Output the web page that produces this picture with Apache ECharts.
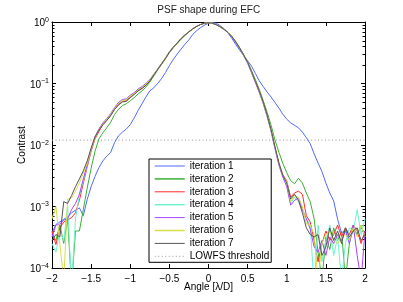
<!DOCTYPE html>
<html>
<head>
<meta charset="utf-8">
<script src="https://cdn.jsdelivr.net/npm/echarts@6/dist/echarts.min.js"></script>
<style>html,body{margin:0;padding:0;background:#fff;}#c{width:403px;height:302px;}</style>
</head>
<body>
<div id="c"></div>
<script>
var titleText = 'PSF shape during EFC';
var xName = 'Angle [λ/D]';
var yName = 'Contrast';
var seriesNames = ['iteration 1','iteration 2','iteration 3','iteration 4','iteration 5','iteration 6','iteration 7','LOWFS threshold'];
var xTicks = [-2,-1.5,-1,-0.5,0,0.5,1,1.5,2];
var yTicks = [1e-4,1e-3,1e-2,1e-1,1];

var xs = [-2,-1.95,-1.9,-1.85,-1.8,-1.75,-1.7,-1.65,-1.6,-1.55,
-1.5,-1.45,-1.4,-1.35,-1.3,-1.25,-1.2,-1.15,-1.1,-1.05,
-1,-0.95,-0.9,-0.85,-0.8,-0.75,-0.7,-0.65,-0.6,-0.55,
-0.5,-0.45,-0.4,-0.35,-0.3,-0.25,-0.2,-0.15,-0.1,-0.05,
0,0.05,0.1,0.15,0.2,0.25,0.3,0.35,0.4,0.45,
0.5,0.55,0.6,0.65,0.7,0.75,0.8,0.85,0.9,0.95,
1,1.05,1.1,1.15,1.2,1.25,1.3,1.35,1.4,1.45,
1.5,1.55,1.6,1.65,1.7,1.75,1.8,1.85,1.9,1.95,2];

var iter1 = [3.7e-4,5.1e-4,5.6e-4,6.2e-4,6.8e-4,7.9e-4,8.7e-4,9.5e-4,7.1e-4,1.3e-3,
2.1e-3,3.1e-3,4.3e-3,5.5e-3,6.6e-3,7.6e-3,0.011,0.0141,0.0162,0.0182,
0.0214,0.0275,0.0363,0.0468,0.0603,0.0759,0.085,0.1,0.12,0.151,
0.195,0.245,0.302,0.363,0.437,0.513,0.631,0.724,0.813,0.891,
0.955,0.977,0.955,0.871,0.776,0.661,0.537,0.427,0.347,0.285,
0.234,0.191,0.145,0.11,0.089,0.0724,0.0603,0.049,0.0398,0.0316,
0.0263,0.0229,0.0209,0.019,0.0162,0.0132,0.0105,0.0072,0.0051,0.0037,
0.0024,0.00166,0.00123,6.2e-4,3.7e-4,4.2e-4,2.9e-4,4.0e-4,3.6e-4,4.5e-4,3.7e-4];

var iter2 = [3.5e-4,2.8e-4,5.0e-4,2.5e-4,6.3e-4,5.0e-5,4.0e-4,4.0e-4,8.9e-4,2.0e-3,
4.2e-3,7.9e-3,0.0126,0.0158,0.0191,0.0234,0.0316,0.038,0.0437,0.0468,
0.0525,0.0589,0.0676,0.0759,0.0871,0.105,0.132,0.166,0.204,0.251,
0.316,0.38,0.447,0.525,0.603,0.692,0.776,0.851,0.912,0.955,
0.977,0.966,0.912,0.841,0.767,0.676,0.582,0.479,0.38,0.295,
0.224,0.162,0.115,0.0794,0.0525,0.0339,0.0209,0.012,0.00759,0.00501,
0.00355,0.00263,0.00234,0.00288,0.0024,0.00166,0.0012,6.3e-4,1.8e-4,6.3e-5,
3.2e-4,2.0e-4,4.5e-4,2.8e-4,4.0e-4,6.3e-5,2.5e-4,4.5e-4,3.5e-4,5.0e-4,3.2e-4];

var iter3 = [4.0e-4,2.4e-4,4.5e-4,5.6e-4,6.0e-4,6.6e-4,7.9e-4,1.26e-3,2.4e-3,4.4e-3,
7.9e-3,0.0126,0.0166,0.0214,0.0251,0.0302,0.038,0.0457,0.0513,0.0525,
0.0603,0.0676,0.0759,0.0832,0.0933,0.11,0.138,0.17,0.209,0.257,
0.324,0.389,0.457,0.537,0.617,0.692,0.776,0.851,0.912,0.955,
0.977,0.955,0.902,0.832,0.759,0.668,0.575,0.468,0.372,0.288,
0.219,0.155,0.107,0.0741,0.049,0.0302,0.0174,0.00912,0.00501,0.0033,
2.6e-3,1.41e-3,1.66e-3,1.78e-3,1.58e-3,7.1e-4,5.6e-4,2.8e-4,1.26e-4,2.5e-4,
4.0e-4,2.8e-4,3.5e-4,5.0e-4,3.2e-4,4.5e-4,3.5e-4,5.0e-4,4.0e-4,2.5e-4,4.0e-4];

var iter4 = [2.5e-4,1.8e-4,4.0e-4,2.8e-4,1.0e-3,5.0e-5,6.3e-4,1.5e-3,2.6e-3,4.7e-3,
8.5e-3,0.0135,0.0178,0.0224,0.0263,0.0316,0.0398,0.0479,0.0537,0.055,
0.0631,0.0692,0.0794,0.0871,0.0977,0.115,0.14,0.172,0.211,0.259,
0.327,0.391,0.46,0.54,0.62,0.695,0.778,0.853,0.912,0.955,
0.977,0.955,0.902,0.832,0.759,0.668,0.572,0.465,0.368,0.285,
0.216,0.153,0.105,0.0724,0.0479,0.0295,0.017,0.0089,0.0049,0.0031,
2.5e-3,1.12e-3,1.41e-3,1.2e-3,8.9e-4,6.3e-4,5.0e-4,5.0e-5,5.0e-4,1.26e-4,
2.8e-4,5.0e-4,1.6e-4,3.2e-4,6.3e-5,2.5e-4,4.5e-4,4.0e-4,8.9e-4,3.5e-4,6.3e-4];

var iter5 = [3.2e-4,5.0e-4,5.2e-4,6.0e-4,6.3e-4,8.9e-4,1.12e-3,1.58e-3,2.8e-3,4.8e-3,
8.7e-3,0.0138,0.0182,0.0229,0.0269,0.0324,0.0407,0.049,0.055,0.0562,
0.0646,0.0708,0.0813,0.0891,0.1,0.115,0.14,0.172,0.211,0.26,
0.327,0.392,0.46,0.54,0.62,0.695,0.778,0.853,0.914,0.957,
0.977,0.955,0.9,0.83,0.755,0.664,0.57,0.462,0.365,0.282,
0.213,0.15,0.103,0.0708,0.0468,0.0288,0.0166,8.7e-3,4.7e-3,3.0e-3,
2.1e-3,1.05e-3,1.26e-3,1.38e-3,8.9e-4,6.3e-4,4.3e-4,2.2e-4,1.8e-4,2.8e-4,
1.6e-4,3.2e-4,2.5e-4,3.5e-4,2.8e-4,4.0e-4,2.5e-4,5.0e-4,1.6e-4,6.3e-5,4.0e-4];

var iter6 = [6.3e-4,1.0e-3,2.5e-4,6.3e-5,1.32e-3,1.38e-3,1.78e-3,2.4e-3,3.5e-3,5.0e-3,
8.5e-3,0.0132,0.0176,0.0221,0.026,0.0312,0.0393,0.0473,0.053,0.0543,
0.0624,0.0684,0.0785,0.086,0.0966,0.113,0.139,0.171,0.21,0.258,
0.325,0.39,0.458,0.538,0.618,0.693,0.777,0.852,0.912,0.955,
0.977,0.955,0.902,0.832,0.759,0.668,0.575,0.468,0.372,0.288,
0.219,0.155,0.107,0.0741,0.049,0.0302,0.0174,0.0092,0.0051,0.0032,
2.5e-3,1.2e-3,1.51e-3,1.41e-3,1.0e-3,5.2e-4,5.0e-4,3.5e-4,6.3e-5,2.5e-4,
3.5e-4,4.0e-4,2.8e-4,2.5e-4,3.2e-4,3.5e-4,2.8e-4,4.5e-4,3.2e-4,5.0e-4,3.2e-4];

var iter7 = [2.8e-4,3.5e-4,3.2e-4,1.2e-3,1.12e-3,1.51e-3,2.1e-3,2.8e-3,3.8e-3,5.5e-3,
8.9e-3,0.0135,0.0174,0.0214,0.0251,0.0302,0.038,0.0447,0.0501,0.0513,
0.0589,0.0661,0.0759,0.0832,0.0933,0.11,0.137,0.169,0.208,0.256,
0.323,0.388,0.456,0.536,0.616,0.691,0.775,0.85,0.911,0.955,
0.977,0.955,0.903,0.833,0.76,0.67,0.577,0.47,0.374,0.29,
0.221,0.157,0.108,0.075,0.0497,0.0306,0.0177,0.0093,0.0051,0.0032,
2.4e-3,1.32e-3,1.58e-3,1.26e-3,7.9e-4,4.5e-4,3.5e-4,3.2e-4,3.5e-4,1.6e-4,
2.2e-4,4.5e-4,2.8e-4,4.0e-4,2.5e-4,4.5e-4,3.2e-4,4.0e-4,4.5e-4,2.8e-4,3.5e-4];

var thresholdX = [-2, 2];
var thresholdValue = 0.012;

var colors = ['#4f6bff','#3cb035','#ff2a2a','#70f2cc','#a645ff','#d6de48','#555555','#9a9a9a'];
var legendWidths = [1, 1.5, 1, 1.5, 1, 1.5, 1, 1];
var allIters = [iter1, iter2, iter3, iter4, iter5, iter6, iter7];

var FONT = '"Liberation Sans", Arial, Helvetica, sans-serif';
var chart = echarts.init(document.getElementById('c'), null, {renderer:'canvas'});

function pair(ys){ return xs.map(function(x,i){ return [x, ys[i]]; }); }
function fmtX(v){ return (v < 0 ? '\u2212' : '') + Math.abs(v); }

var series = allIters.map(function(arr, k){
  return {
    name: seriesNames[k], type:'line', data: pair(arr),
    symbol:'none', showSymbol:false, smooth:false,
    lineStyle:{color: colors[k], width: 1},
    itemStyle:{color: colors[k]},
    emphasis:{disabled:true}, silent:true, clip:true, z: 2 + k
  };
});
series.push({
  name: seriesNames[7], type:'line',
  data: thresholdX.map(function(x){ return [x, thresholdValue]; }),
  symbol:'none', showSymbol:false,
  lineStyle:{color: colors[7], width:1, type:[1,2.5]},
  itemStyle:{color: colors[7]},
  emphasis:{disabled:true}, silent:true, z: 1
});

var legendData = seriesNames.map(function(n, k){
  return {name: n, lineStyle:{width: legendWidths[k]}};
});

var axisLineStyle = {color:'#000', width:1};
var option = {
  animation:false,
  textStyle:{fontFamily: FONT},
  grid:{left:52, top:22, width:313, height:246, containLabel:false},
  legend:{
    data: legendData, orient:'vertical', left:149, top:159,
    padding:[2,2,1,5], itemWidth:30, itemHeight:10, itemGap:2.9,
    backgroundColor:'#fff', borderColor:'#000', borderWidth:1, borderRadius:0,
    itemStyle:{opacity:0, borderWidth:0},
    textStyle:{fontSize:10, color:'#000', fontFamily:FONT, lineHeight:10},
    selectedMode:false
  },
  xAxis:[
    {type:'value', min:-2, max:2, interval:0.5, position:'bottom',
     axisLine:{onZero:false, lineStyle:axisLineStyle},
     axisTick:{inside:true, length:4, lineStyle:axisLineStyle},
     axisLabel:{formatter: fmtX, color:'#000', fontSize:10, margin:6, fontFamily:FONT},
     splitLine:{show:false},
     name: xName, nameLocation:'middle', nameGap:14, nameMoveOverlap:false,
     nameTextStyle:{fontSize:10, color:'#000', fontFamily:FONT}},
    {type:'value', min:-2, max:2, interval:0.5, position:'top',
     axisLine:{onZero:false, lineStyle:axisLineStyle},
     axisTick:{inside:true, length:4, lineStyle:axisLineStyle},
     axisLabel:{show:false}, splitLine:{show:false}}
  ],
  yAxis:[
    {type:'log', logBase:10, min:yTicks[0], max:yTicks[yTicks.length-1], position:'left',
     axisLine:{onZero:false, lineStyle:axisLineStyle},
     axisTick:{inside:true, length:4, lineStyle:axisLineStyle},
     axisLabel:{
       color:'#000', margin:3, fontFamily:FONT,
       formatter:function(v){
         var e = Math.round(Math.log(v)/Math.LN10);
         return '{b|10}{s|' + (e < 0 ? '\u2212' : '') + Math.abs(e) + '}';
       },
       rich:{
         b:{fontSize:10, color:'#000', fontFamily:FONT, padding:[3,0,0,0]},
         s:{fontSize:7, color:'#000', fontFamily:FONT, padding:[0,0,4,0]}
       }
     },
     splitLine:{show:false},
     name: yName, nameLocation:'middle', nameGap:25, nameMoveOverlap:false,
     nameTextStyle:{fontSize:10, color:'#000', fontFamily:FONT}},
    {type:'log', logBase:10, min:yTicks[0], max:yTicks[yTicks.length-1], position:'right',
     axisLine:{onZero:false, lineStyle:axisLineStyle},
     axisTick:{inside:true, length:4, lineStyle:axisLineStyle},
     axisLabel:{show:false}, splitLine:{show:false}}
  ],
  series: series
};
chart.setOption(option);

// minor log ticks placed through the axis scale
var els = [{
  type:'text', x: 208.75, y: 10.5,
  style:{text: titleText, fontSize:10, fill:'#222', fontFamily:FONT, align:'center', verticalAlign:'middle'}
}];
var leftPx = chart.convertToPixel({gridIndex:0}, [xTicks[0], 1])[0];
var rightPx = chart.convertToPixel({gridIndex:0}, [xTicks[xTicks.length-1], 1])[0];
for (var d = 0; d < yTicks.length - 1; d++) {
  for (var m = 2; m <= 9; m++) {
    var v = m * yTicks[d];
    var py = Math.round(chart.convertToPixel({gridIndex:0}, [0, v])[1]) + 0.5;
    els.push({type:'line', shape:{x1:leftPx, y1:py, x2:leftPx + 2.5, y2:py}, style:{stroke:'#000', lineWidth:1}, silent:true});
    els.push({type:'line', shape:{x1:rightPx, y1:py, x2:rightPx - 2.5, y2:py}, style:{stroke:'#000', lineWidth:1}, silent:true});
  }
}
chart.setOption({graphic:{elements: els}});
</script>
</body>
</html>
